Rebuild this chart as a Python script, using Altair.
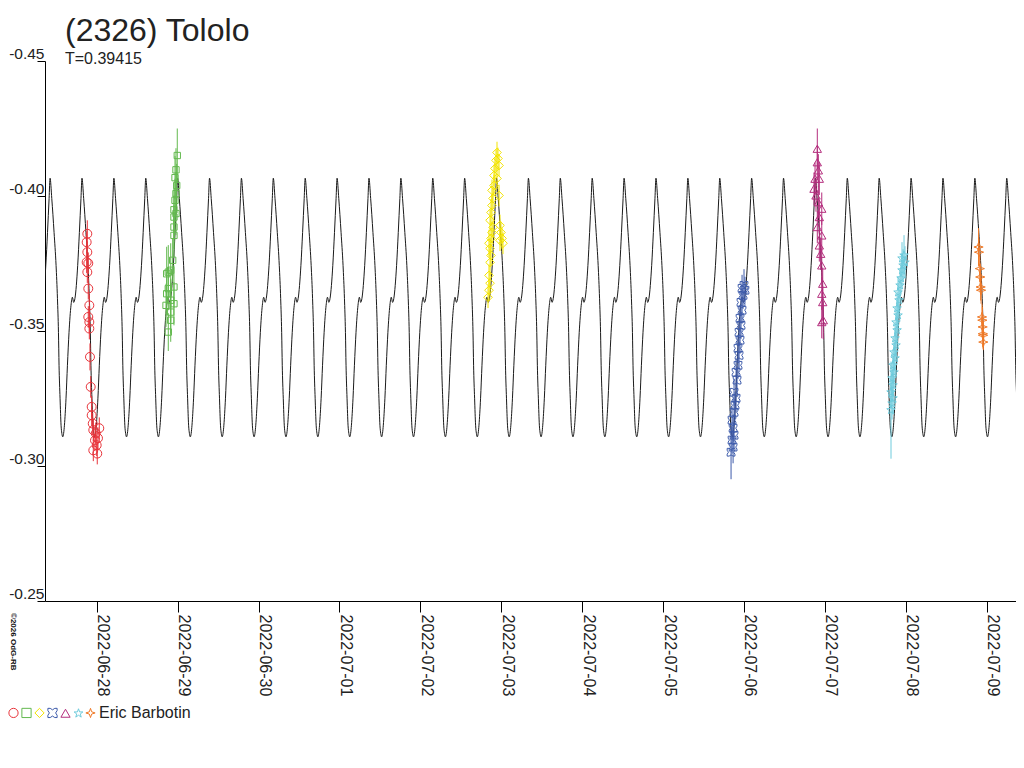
import altair as alt
import pandas as pd

TITLE = "(2326) Tololo"
SUBTITLE = "T=0.39415"
OBSERVER = "Eric Barbotin"
COPYRIGHT = "\u00a92026 OdG-RB"
PERIOD = 0.39415          # days
PEAK_EPOCH = 0.21215      # days after 2022-06-28 00:00 UT of a model maximum
X_DOMAIN = [-0.639, 11.363]   # days after 2022-06-28 00:00 UT
Y_DOMAIN = [-0.45, -0.25]
X_TICKS = list(range(12))     # 2022-06-28 ... 2022-07-09
Y_TICKS = [-0.45, -0.40, -0.35, -0.30, -0.25]

# model lightcurve over one period (phase from maximum, relative magnitude)
model_phase = [0.000, 0.053, 0.125, 0.1875, 0.231, 0.2625, 0.281, 0.3125, 0.344,
               0.369, 0.397, 0.425, 0.450, 0.500, 0.544, 0.594, 0.656, 0.700,
               0.740, 0.780, 0.866, 0.919, 0.969]
model_mag = [-0.4066, -0.3991, -0.3865, -0.3743, -0.3621, -0.3495, -0.3373, -0.3251, -0.3151,
             -0.3121, -0.3108, -0.3121, -0.3151, -0.3251, -0.3373, -0.3495, -0.3595, -0.3625,
             -0.3606, -0.3621, -0.3743, -0.3865, -0.3991]

# sessions (Eric Barbotin)
session_names = ["2022-06-27", "2022-06-28", "2022-07-02", "2022-07-05",
                 "2022-07-06", "2022-07-07", "2022-07-08"]
session_colors = ["#e8333a", "#63b94f", "#f3e400", "#3c5aaa", "#b42d7d", "#6ecbdc", "#f07a28"]
BLUE_PATH = ("M-1,-1L-0.5,-1Q0,-0.35 0.5,-1L1,-1L1,-0.5Q0.35,0 1,0.5L1,1L0.5,1"
             "Q0,0.35 -0.5,1L-1,1L-1,0.5Q-0.35,0 -1,-0.5Z")
STAR_PATH = ("M0,-1L0.235,-0.324L0.951,-0.309L0.38,0.124L0.588,0.809L0,0.4"
             "L-0.588,0.809L-0.38,0.124L-0.951,-0.309L-0.235,-0.324Z")
ORANGE_PATH = "M0,-1L0.25,-0.25L1,0L0.25,0.25L0,1L-0.25,0.25L-1,0L-0.25,-0.25Z"
session_shapes = ["circle", "square", "diamond", BLUE_PATH, "triangle-up", STAR_PATH, ORANGE_PATH]
session_sizes = [80, 40, 75, 60, 70, 80, 85]

red_t = [-0.124, -0.124, -0.116, -0.116, -0.116, -0.104, -0.104, -0.104, -0.091, -0.091,
         -0.091, -0.083, -0.074, -0.062, -0.062, -0.049, -0.042, -0.042, -0.021, -0.012,
         0.000, 0.007, 0.016, 0.032]
red_m = [-0.3829, -0.3755, -0.3860, -0.3792, -0.3718, -0.3751, -0.3657, -0.3552, -0.3595, -0.3533,
         -0.3509, -0.3404, -0.3293, -0.3219, -0.3188, -0.3157, -0.3133, -0.3058, -0.3095, -0.3121,
         -0.3077, -0.3046, -0.3103, -0.3140]
red_e = [0.004, 0.004, 0.005, 0.004, 0.004, 0.004, 0.004, 0.004, 0.004, 0.004,
         0.004, 0.005, 0.004, 0.004, 0.004, 0.004, 0.004, 0.004, 0.004, 0.004,
         0.004, 0.004, 0.004, 0.004]

green_t = [0.857, 0.865, 0.865, 0.885, 0.885, 0.885, 0.915, 0.915, 0.915, 0.915,
           0.939, 0.955, 0.955, 0.955, 0.955, 0.955, 0.955, 0.968, 0.968, 0.980,
           0.980, 0.980, 0.989, 0.996]
green_m = [-0.3595, -0.3712, -0.3638, -0.3718, -0.3657, -0.3496, -0.3725, -0.3614, -0.3570, -0.3540,
           -0.3762, -0.3663, -0.3601, -0.3949, -0.3922, -0.3885, -0.3854, -0.4068, -0.3984, -0.4097,
           -0.4009, -0.3935, -0.4039, -0.4150]
green_e = [0.008, 0.010, 0.008, 0.010, 0.008, 0.007, 0.010, 0.008, 0.008, 0.008,
           0.008, 0.008, 0.008, 0.008, 0.008, 0.008, 0.008, 0.008, 0.008, 0.008,
           0.008, 0.008, 0.008, 0.010]

yellow_t = [4.837, 4.849, 4.862, 4.849, 4.862, 4.874, 4.862, 4.849, 4.874, 4.886,
            4.899, 4.862, 4.874, 4.886, 4.899, 4.886, 4.911, 4.911, 4.923, 4.936,
            4.948, 4.960, 4.973, 4.948, 4.973, 4.985, 4.997, 5.010, 5.022, 4.985]
yellow_m = [-0.3625, -0.3651, -0.3677, -0.3706, -0.3754, -0.3780, -0.3806, -0.3825, -0.3843, -0.3865,
            -0.3884, -0.3910, -0.3939, -0.3965, -0.3991, -0.4021, -0.4039, -0.4076, -0.4102, -0.4132,
            -0.4161, -0.4139, -0.4113, -0.4065, -0.4002, -0.3891, -0.3865, -0.3843, -0.3825, -0.3836]
yellow_e = [0.004, 0.004, 0.004, 0.004, 0.005, 0.004, 0.004, 0.005, 0.004, 0.004,
            0.004, 0.004, 0.005, 0.004, 0.004, 0.004, 0.004, 0.004, 0.004, 0.004,
            0.004, 0.004, 0.004, 0.004, 0.004, 0.004, 0.004, 0.004, 0.004, 0.004]

blue_t = [7.841, 7.866, 7.853, 7.878, 7.866, 7.853, 7.878, 7.890, 7.903, 7.878,
          7.915, 7.903, 7.927, 7.940, 7.927, 7.952, 7.940, 7.964, 7.952, 7.977,
          7.964, 7.989, 7.977, 8.001, 8.013]
blue_m = [-0.3051, -0.3070, -0.3096, -0.3114, -0.3140, -0.3170, -0.3199, -0.3225, -0.3251, -0.3273,
          -0.3318, -0.3347, -0.3373, -0.3410, -0.3436, -0.3466, -0.3495, -0.3521, -0.3547, -0.3577,
          -0.3606, -0.3632, -0.3658, -0.3669, -0.3651]
blue_e = [0.010, 0.006, 0.005, 0.005, 0.005, 0.005, 0.005, 0.005, 0.005, 0.005,
          0.005, 0.005, 0.005, 0.005, 0.005, 0.005, 0.005, 0.005, 0.005, 0.005,
          0.005, 0.005, 0.005, 0.006, 0.005]

magenta_t = [8.907, 8.907, 8.920, 8.879, 8.932, 8.866, 8.891, 8.920, 8.962, 8.932,
             8.907, 8.962, 8.932, 8.949, 8.962, 8.974, 8.962, 8.974, 8.981, 8.962]
magenta_m = [-0.4175, -0.4125, -0.4095, -0.4064, -0.4064, -0.4027, -0.4002, -0.3977, -0.3953, -0.3922,
             -0.3885, -0.3854, -0.3817, -0.3786, -0.3743, -0.3675, -0.3638, -0.3607, -0.3540, -0.3533]
magenta_e = [0.0075, 0.006, 0.006, 0.006, 0.006, 0.006, 0.006, 0.006, 0.006, 0.006,
             0.006, 0.006, 0.006, 0.006, 0.006, 0.006, 0.006, 0.006, 0.007, 0.006]

cyan_t = [9.818, 9.831, 9.843, 9.818, 9.843, 9.831, 9.855, 9.843, 9.868, 9.855,
          9.880, 9.868, 9.893, 9.880, 9.905, 9.893, 9.917, 9.905, 9.930, 9.942,
          9.954, 9.967, 9.954, 9.979, 9.991]
cyan_m = [-0.3207, -0.3232, -0.3251, -0.3273, -0.3299, -0.3325, -0.3347, -0.3373, -0.3399, -0.3421,
          -0.3447, -0.3473, -0.3503, -0.3532, -0.3558, -0.3584, -0.3614, -0.3643, -0.3669, -0.3695,
          -0.3725, -0.3743, -0.3769, -0.3780, -0.3754]
cyan_e = [0.018, 0.006, 0.006, 0.006, 0.006, 0.006, 0.006, 0.006, 0.006, 0.006,
          0.006, 0.006, 0.006, 0.006, 0.006, 0.006, 0.006, 0.006, 0.006, 0.006,
          0.006, 0.006, 0.006, 0.0075, 0.006]

orange_t = [10.900, 10.906, 10.916, 10.921, 10.926, 10.931, 10.943, 10.947, 10.951, 10.956,
            10.959, 10.953]
orange_m = [-0.3811, -0.3792, -0.3731, -0.3700, -0.3663, -0.3651, -0.3552, -0.3540, -0.3515, -0.3484,
            -0.3459, -0.3490]
orange_e = [0.007, 0.005, 0.005, 0.005, 0.005, 0.005, 0.005, 0.005, 0.005, 0.005,
            0.003, 0.005]

series = [(red_t, red_m, red_e), (green_t, green_m, green_e), (yellow_t, yellow_m, yellow_e),
          (blue_t, blue_m, blue_e), (magenta_t, magenta_m, magenta_e), (cyan_t, cyan_m, cyan_e),
          (orange_t, orange_m, orange_e)]

rows = []
for name, col, sz, (ts, ms, es) in zip(session_names, session_colors, session_sizes, series):
    for t, m, e in zip(ts, ms, es):
        rows.append({"session": name, "col": col, "sz": sz, "t": t, "mag": m,
                     "lo": m - e, "hi": m + e})
obs = pd.DataFrame(rows)

# model curve repeated with the period
mrows = []
for n in range(-3, 31):
    for ph, m in zip(model_phase, model_mag):
        t = PEAK_EPOCH + (n + ph) * PERIOD
        if X_DOMAIN[0] - 0.2 <= t <= X_DOMAIN[1] + 0.2:
            mrows.append({"t": t, "mag": m})
model = pd.DataFrame(mrows)

FONT = "Liberation Sans"
TXT = "#222222"

xscale = alt.Scale(domain=X_DOMAIN, nice=False, zero=False)
yscale = alt.Scale(domain=Y_DOMAIN, reverse=True, nice=False, zero=False)
xaxis = alt.Axis(values=X_TICKS, title=None, grid=False, orient="bottom",
                 labelExpr="timeFormat(datetime(2022, 5, 28 + datum.value), '%Y-%m-%d')",
                 labelAngle=90, labelAlign="left", labelBaseline="alphabetic",
                 labelFontSize=16, labelFont=FONT, labelColor=TXT, labelPadding=2,
                 labelFlush=False, labelOverlap=False, labelOffset=1,
                 tickSize=11, tickColor="#000000", domainColor="#000000")
yaxis = alt.Axis(values=Y_TICKS, title=None, grid=False, orient="left",
                 labelExpr="'-' + format(-datum.value, '.2f')",
                 labelBaseline="bottom", labelFontSize=15.5, labelFont=FONT, labelColor=TXT,
                 labelPadding=-7, labelFlush=False, labelOverlap=False,
                 tickSize=8, tickColor="#000000", domainColor="#000000")

curve = alt.Chart(model).mark_line(color="#1a1a1a", strokeWidth=1, clip=True,
                                   interpolate="monotone").encode(
    x=alt.X("t:Q", scale=xscale, axis=xaxis),
    y=alt.Y("mag:Q", scale=yscale, axis=yaxis),
)

errs = alt.Chart(obs).mark_rule(strokeWidth=1, clip=True).encode(
    x=alt.X("t:Q", scale=xscale, axis=xaxis),
    y=alt.Y("lo:Q", scale=yscale, axis=yaxis),
    y2="hi:Q",
    color=alt.Color("col:N", scale=None),
)

leg = alt.Legend(orient="none", legendX=-37, legendY=646, direction="horizontal",
                 title=OBSERVER, titleOrient="right", titleFontSize=16, titleFont=FONT,
                 titleFontWeight="normal", titleColor=TXT, titlePadding=2,
                 labelExpr="''", labelOffset=0, columnPadding=-10, padding=0,
                 symbolSize=85, symbolStrokeWidth=1)

points = alt.Chart(obs).mark_point(filled=False, strokeWidth=1, opacity=1, clip=True).encode(
    x=alt.X("t:Q", scale=xscale, axis=xaxis),
    y=alt.Y("mag:Q", scale=yscale, axis=yaxis),
    color=alt.Color("session:N", scale=alt.Scale(domain=session_names, range=session_colors),
                    legend=leg),
    shape=alt.Shape("session:N", scale=alt.Scale(domain=session_names, range=session_shapes),
                    legend=leg),
    size=alt.Size("sz:Q", scale=None),
)

credit = alt.Chart(pd.DataFrame({"txt": [COPYRIGHT]})).mark_text(
    angle=90, align="left", baseline="bottom", fontSize=8, font=FONT,
    fontWeight="bold", color="#111111").encode(
    x=alt.value(-36), y=alt.value(552), text="txt:N")

chart = alt.layer(curve, errs, points, credit).properties(
    width=971, height=540,
    padding={"left": 37, "top": 53, "right": 0, "bottom": 125},
    autosize=alt.AutoSizeParams(type="none"),
    background="white",
    title=alt.TitleParams(text=TITLE, subtitle=SUBTITLE, anchor="start", frame="group",
                          dx=20, offset=-22, fontSize=32, font=FONT, fontWeight="normal",
                          color=TXT, subtitleFontSize=16, subtitleFont=FONT,
                          subtitleColor=TXT, subtitlePadding=3),
).configure_view(strokeWidth=0)

chart.save("out.html", embed_options={"renderer": "svg", "actions": False})
